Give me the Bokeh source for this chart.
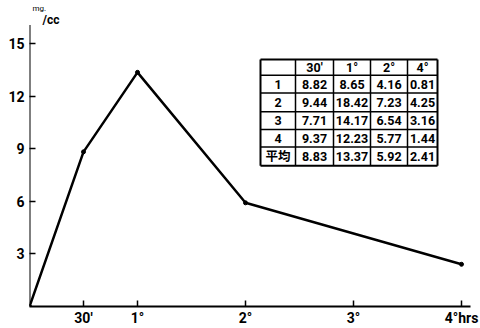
from bokeh.plotting import figure
from bokeh.models import FixedTicker, Range1d, ColumnDataSource
from bokeh.core.properties import value
from bokeh.embed import file_html
from bokeh.resources import INLINE

# ---- data ----
times = [0, 0.5, 1, 2, 4]                 # hours
mean_vals = [0, 8.83, 13.37, 5.92, 2.41]  # mg/cc (平均)

x_ticks = [0.5, 1, 2, 3, 4]
x_tick_labels = ["30′", "1°", "2°", "3°", "4°hrs"]
y_ticks = [3, 6, 9, 12, 15]

table_header = ["", "30′", "1°", "2°", "4°"]
row_labels = ["1", "2", "3", "4", "平均"]
row_30m = [8.82, 9.44, 7.71, 9.37, 8.83]
row_1h = [8.65, 18.42, 14.17, 12.23, 13.37]
row_2h = [4.16, 7.23, 6.54, 5.77, 5.92]
row_4h = [0.81, 4.25, 3.16, 1.44, 2.41]

# ---- layout ----
W, H = 480, 328
LEFT, RIGHT, TOP, BOTTOM = 29, 10, 0, 17
frame_w = W - LEFT - RIGHT
frame_h = H - TOP - BOTTOM
PX_PER_HR = 108.0
PX_PER_UNIT = 17.8
x_end = frame_w / PX_PER_HR
y_end = frame_h / PX_PER_UNIT

FONT = "Roboto"
CJK = "Noto Sans CJK JP"

def dx(px):
    return (px - LEFT) / PX_PER_HR

def dy(py):
    return (H - BOTTOM - py) / PX_PER_UNIT

p = figure(width=W, height=H, output_backend="svg", toolbar_location=None,
           x_range=Range1d(0, x_end), y_range=Range1d(0, y_end),
           min_border_left=LEFT, min_border_right=RIGHT,
           min_border_top=TOP, min_border_bottom=BOTTOM)
p.outline_line_color = None
p.grid.visible = False
p.background_fill_color = "white"
p.border_fill_color = "white"

for ax in (p.xaxis[0], p.yaxis[0]):
    ax.axis_line_width = 2
    ax.axis_line_color = "black"
    ax.major_tick_line_width = 1.5
    ax.major_tick_line_color = "black"
    ax.major_tick_in = 6
    ax.major_tick_out = 0
    ax.minor_tick_line_color = None
    ax.major_label_text_font = FONT
    ax.major_label_text_font_size = "14px"
    ax.major_label_text_font_style = "bold"
    ax.major_label_text_color = "black"

p.xaxis.ticker = FixedTicker(ticks=x_ticks)
p.xaxis.major_label_overrides = {t: l for t, l in zip(x_ticks, x_tick_labels)}
p.xaxis.major_label_standoff = 3
p.yaxis.ticker = FixedTicker(ticks=y_ticks)
p.yaxis.major_label_standoff = 5
p.yaxis.axis_line_color = None

# y-axis line, stopping just above the top tick
p.segment(x0=0, y0=0, x1=0, y1=dy(25), line_color="black", line_width=2)

# data line
p.line(times, mean_vals, line_color="black", line_width=2.5)
p.scatter(times, mean_vals, size=4, color="black")

# unit label
p.text(x=[dx(32)], y=[dy(13)], text=["mg."], text_font=value(FONT),
       text_font_size="8px", text_color="black", text_baseline="bottom")
p.text(x=[dx(42)], y=[dy(27)], text=["/cc"], text_font=value(FONT),
       text_font_size="12px", text_font_style="bold", text_color="black",
       text_baseline="bottom")

# ---- table ----
col_px = [260, 295, 333, 370, 407, 437]
row_px = [60, 76, 94, 113, 131, 149, 168]
cx = [dx(v) for v in col_px]
ry = [dy(v) for v in row_px]

p.quad(left=cx[0], right=cx[-1], top=ry[0], bottom=ry[-1],
       fill_color="white", line_color=None)

for i, x in enumerate(cx):
    w = 2 if i in (0, len(cx) - 1) else 1.5
    p.segment(x0=x, y0=ry[0], x1=x, y1=ry[-1], line_color="black", line_width=w)
for j, y in enumerate(ry):
    w = 2 if j in (0, len(ry) - 1) else 1.5
    p.segment(x0=cx[0], y0=y, x1=cx[-1], y1=y, line_color="black", line_width=w)

cols = [row_30m, row_1h, row_2h, row_4h]
tx, ty, tt = [], [], []
for c in range(5):
    tx.append((cx[c] + cx[c + 1]) / 2)
    ty.append((ry[0] + ry[1]) / 2)
    tt.append(table_header[c])
for r in range(5):
    ymid = (ry[r + 1] + ry[r + 2]) / 2
    tx.append((cx[0] + cx[1]) / 2)
    ty.append(ymid)
    tt.append(row_labels[r])
    for c in range(4):
        tx.append((cx[c + 1] + cx[c + 2]) / 2)
        ty.append(ymid)
        tt.append(f"{cols[c][r]:.2f}")

src = ColumnDataSource(dict(x=tx, y=ty, t=tt))
p.text(x="x", y="y", text="t", source=src, text_align="center",
       text_baseline="middle", text_font=value(FONT + ", " + CJK),
       text_font_size="12.5px", text_font_style="bold", text_color="black")

open("out.html", "w").write(file_html(p, INLINE))
